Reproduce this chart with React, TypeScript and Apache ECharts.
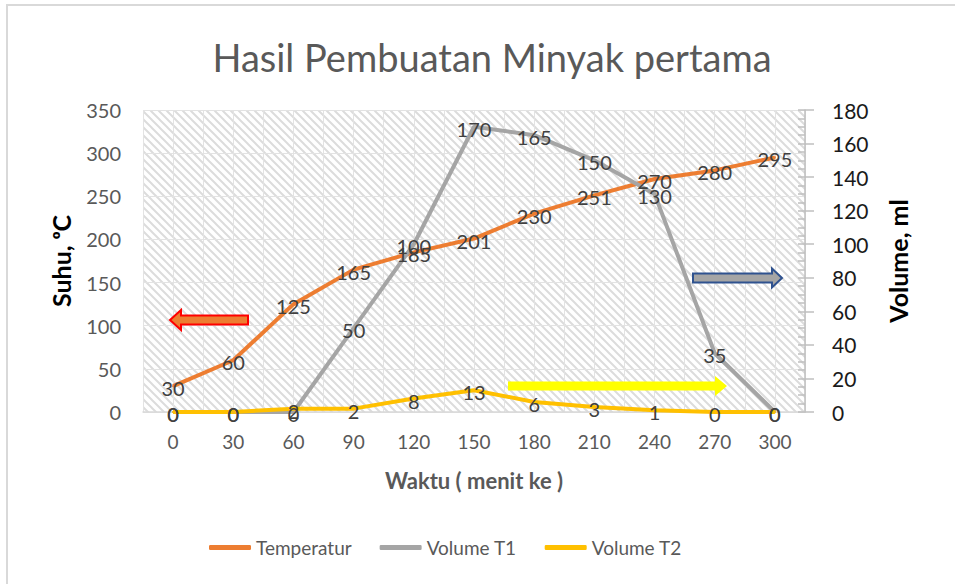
import React, { useEffect, useRef } from "react";
import * as echarts from "echarts";

const categories = ["0", "30", "60", "90", "120", "150", "180", "210", "240", "270", "300"];
const temperatur = [30, 60, 125, 165, 185, 201, 230, 251, 270, 280, 295];
const volumeT1 = [0, 0, 0, 50, 100, 170, 165, 150, 130, 35, 0];
const volumeT2 = [0, 0, 2, 2, 8, 13, 6, 3, 1, 0, 0];

const FONT = "Lato, 'Open Sans', sans-serif";

function makeHatch(): string {
  const c = document.createElement("canvas");
  c.width = 8;
  c.height = 8;
  const ctx = c.getContext("2d")!;
  ctx.fillStyle = "#ffffff";
  ctx.fillRect(0, 0, 8, 8);
  ctx.strokeStyle = "#dcdcdc";
  ctx.lineWidth = 2;
  ctx.beginPath();
  ctx.moveTo(-2, -2);
  ctx.lineTo(10, 10);
  ctx.moveTo(-2, 6);
  ctx.lineTo(2, 10);
  ctx.moveTo(6, -2);
  ctx.lineTo(10, 2);
  ctx.stroke();
  return c.toDataURL();
}

export default function App() {
  const ref = useRef<HTMLDivElement>(null);
  useEffect(() => {
    document.body.style.margin = "0";
    const chart = echarts.init(ref.current!, null, { renderer: "svg" });
    const hatch = makeHatch();
    const labelCfg = {
      show: true,
      position: "inside",
      offset: [0, 2],
      fontSize: 20,
      color: "#404040",
      fontFamily: FONT,
    };
    chart.setOption({
      animation: false,
      backgroundColor: "#ffffff",
      title: {
        text: "Hasil Pembuatan Minyak pertama",
        left: 487,
        top: 33,
        textAlign: "center",
        textStyle: { fontSize: 38, fontWeight: "normal", color: "#595959", fontFamily: FONT },
      },
      legend: {
        bottom: 22,
        left: 204,
        icon: "roundRect",
        itemWidth: 42,
        itemHeight: 5,
        itemGap: 28,
        textStyle: { fontSize: 19, color: "#595959", fontFamily: FONT },
        data: ["Temperatur", "Volume T1", "Volume T2"],
      },
      grid: {
        left: 143,
        right: 150,
        top: 110,
        bottom: 172,
        show: true,
        borderWidth: 0,
        backgroundColor: { image: hatch, repeat: "repeat", imageWidth: 8, imageHeight: 8 },
      },
      xAxis: [
        {
          type: "category",
          data: categories,
          boundaryGap: true,
          axisLine: { lineStyle: { color: "#d9d9d9", width: 1.5 } },
          axisTick: { show: false },
          axisLabel: { fontSize: 19, color: "#595959", margin: 20, fontFamily: FONT },
          splitLine: { show: false },
          name: "Waktu ( menit ke )",
          nameLocation: "middle",
          nameGap: 57,
          nameTextStyle: { fontSize: 22, fontWeight: "bold", color: "#595959", fontFamily: FONT },
        },
        {
          type: "value",
          min: 0,
          max: 22,
          interval: 1,
          position: "bottom",
          show: true,
          axisLine: { show: false },
          axisTick: { show: false },
          axisLabel: { show: false },
          splitLine: { show: true, lineStyle: { color: "#e3e3e3", width: 1 } },
        },
      ],
      yAxis: [
        {
          type: "value",
          min: 0,
          max: 350,
          interval: 50,
          axisLine: { show: false },
          axisTick: { show: false },
          axisLabel: { fontSize: 20, color: "#595959", margin: 22, fontFamily: FONT },
          splitLine: { show: true, lineStyle: { color: "#e3e3e3", width: 1 } },
          name: "Suhu, ᵒC",
          nameLocation: "middle",
          nameGap: 70,
          nameTextStyle: { fontSize: 25, fontWeight: "bold", color: "#000000", fontFamily: FONT },
        },
        {
          type: "value",
          min: 0,
          max: 180,
          interval: 20,
          position: "right",
          axisLine: { show: true, lineStyle: { color: "#bfbfbf", width: 1.5 } },
          axisTick: { show: true, inside: false, length: 9, lineStyle: { color: "#bfbfbf", width: 1.5 } },
          axisLabel: { fontSize: 21, color: "#1a1a1a", margin: 27, fontFamily: FONT },
          splitLine: { show: false },
          name: "Volume, ml",
          nameLocation: "middle",
          nameGap: 80,
          nameTextStyle: { fontSize: 25, fontWeight: "bold", color: "#000000", fontFamily: FONT },
        },
        {
          type: "value",
          min: 0,
          max: 180,
          interval: 20,
          position: "right",
          axisLine: { show: false },
          axisTick: { show: true, inside: true, length: 7, lineStyle: { color: "#bfbfbf", width: 1.5 } },
          minorTick: { show: true, splitNumber: 4, length: 7, lineStyle: { color: "#bfbfbf", width: 1.5 } },
          axisLabel: { show: false },
          splitLine: { show: false },
        },
      ],
      series: [
        {
          name: "Temperatur",
          type: "line",
          xAxisIndex: 0,
          yAxisIndex: 0,
          data: temperatur,
          symbol: "circle",
          symbolSize: 2,
          itemStyle: { color: "#ED7D31" },
          lineStyle: { color: "#ED7D31", width: 4 },
          label: labelCfg,
          z: 3,
        },
        {
          name: "Volume T1",
          type: "line",
          xAxisIndex: 0,
          yAxisIndex: 1,
          data: volumeT1,
          symbol: "circle",
          symbolSize: 2,
          itemStyle: { color: "#A5A5A5" },
          lineStyle: { color: "#A5A5A5", width: 4 },
          label: labelCfg,
          z: 3,
        },
        {
          name: "Volume T2",
          type: "line",
          xAxisIndex: 0,
          yAxisIndex: 1,
          data: volumeT2,
          symbol: "circle",
          symbolSize: 2,
          itemStyle: { color: "#FFC000" },
          lineStyle: { color: "#FFC000", width: 4 },
          label: labelCfg,
          z: 3,
        },
      ],
      graphic: [
        {
          type: "rect",
          shape: { x: 7, y: 5, width: 980, height: 620 },
          style: { fill: "none", stroke: "#d9d9d9", lineWidth: 2 },
          silent: true,
          z: 0,
        },
        {
          type: "polygon",
          shape: {
            points: [[170, 320], [181, 310], [181, 315.5], [248, 315.5], [248, 324.5], [181, 324.5], [181, 330]],
          },
          style: { fill: "#ED7D31", stroke: "#FF0000", lineWidth: 2 },
          z: 10,
        },
        {
          type: "polygon",
          shape: {
            points: [[693, 273.5], [772, 273.5], [772, 268.5], [782, 278], [772, 287.5], [772, 282.5], [693, 282.5]],
          },
          style: { fill: "#A5A5A5", stroke: "#2F528F", lineWidth: 2 },
          z: 10,
        },
        {
          type: "polygon",
          shape: {
            points: [[508, 381.5], [715, 381.5], [715, 376], [727, 386], [715, 396], [715, 390.5], [508, 390.5]],
          },
          style: { fill: "#FFFF00" },
          z: 10,
        },
      ],
    });
    return () => chart.dispose();
  }, []);
  return <div ref={ref} style={{ width: 955, height: 584 }} />;
}
